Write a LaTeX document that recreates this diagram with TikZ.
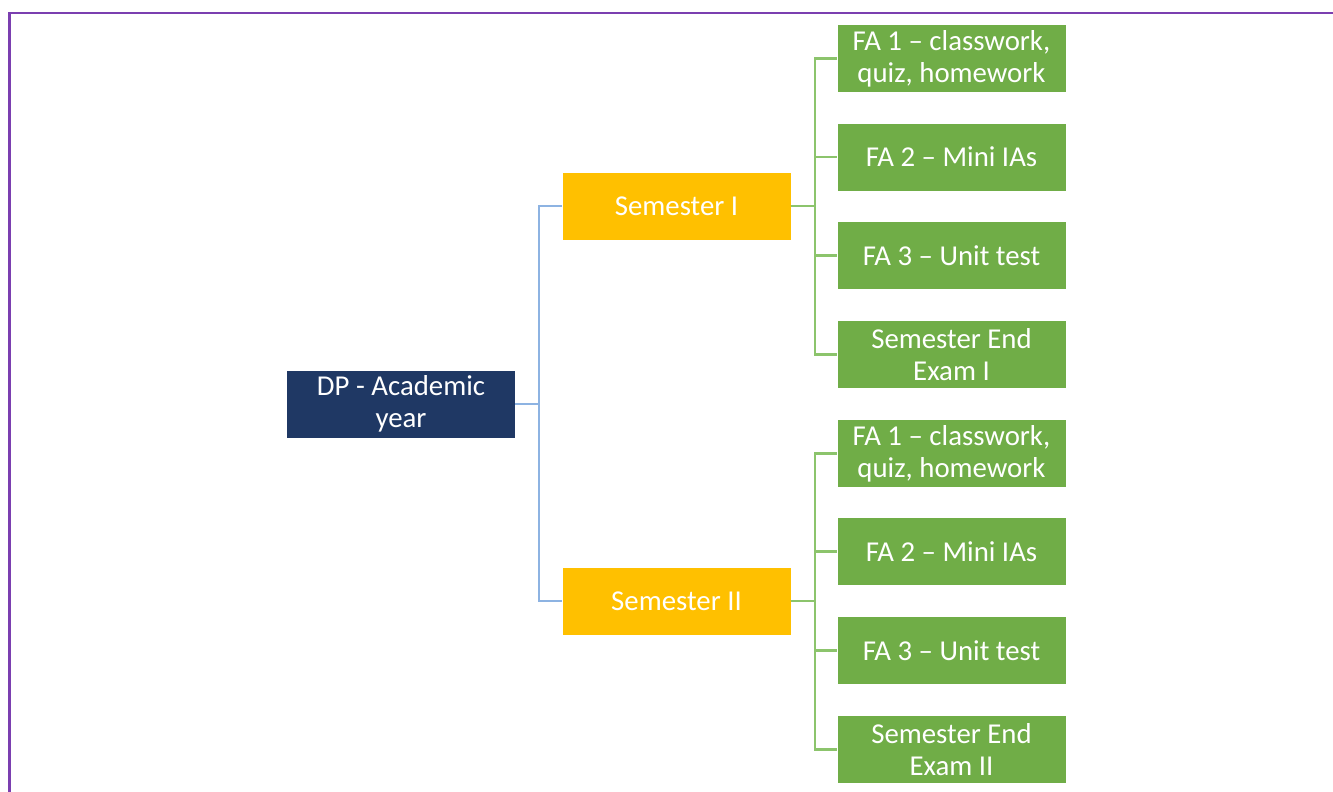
\documentclass[tikz,border=0pt]{standalone}
\usepackage{fontspec}
\setmainfont{Carlito}
\definecolor{navy}{HTML}{1F3864}
\definecolor{semorange}{HTML}{FFC000}
\definecolor{fagreen}{HTML}{70AD47}
\definecolor{lineblue}{HTML}{8DB3E2}
\definecolor{linegreen}{HTML}{8CC46C}
\definecolor{frame}{HTML}{7B3FB0}
\tikzset{
  boxbase/.style={minimum width=228pt, minimum height=67pt, inner sep=0pt, align=center, text=white,
    font=\fontsize{28.8}{32}\selectfont},
  rootbox/.style={boxbase, fill=navy},
  sembox/.style={boxbase, fill=semorange},
  fabox/.style={boxbase, fill=fagreen},
  blueline/.style={draw=lineblue, line width=2.2pt},
  greenline/.style={draw=linegreen, line width=2.2pt},
}
\begin{document}
\begin{tikzpicture}[x=1pt,y=-1pt]
\useasboundingbox (0,0) rectangle (1333,792);
\draw[frame, line width=2.5pt] (9.5,793) -- (9.5,13) -- (1334,13);

\node[rootbox] (dp) at (401,404) {DP - Academic\\year};
\node[sembox] (s1) at (676.5,206) {Semester I};
\node[sembox] (s2) at (676.5,601) {Semester II};

\node[fabox] (a1) at (951.5,58.5) {FA 1 – classwork,\\quiz, homework};
\node[fabox] (a2) at (951.5,157) {FA 2 – Mini IAs};
\node[fabox] (a3) at (951.5,255.5) {FA 3 – Unit test};
\node[fabox] (a4) at (951.5,354.5) {Semester End\\Exam I};

\node[fabox] (b1) at (951.5,453.5) {FA 1 – classwork,\\quiz, homework};
\node[fabox] (b2) at (951.5,551.5) {FA 2 – Mini IAs};
\node[fabox] (b3) at (951.5,650.5) {FA 3 – Unit test};
\node[fabox] (b4) at (951.5,749.5) {Semester End\\Exam II};

\draw[blueline] (dp.east) -- ++(24,0) |- (s1.west);
\draw[blueline] (dp.east) -- ++(24,0) |- (s2.west);

\foreach \t in {a1,a2,a3,a4}{
  \draw[greenline] (s1.east) -- ++(24,0) |- (\t.west);
}
\foreach \t in {b1,b2,b3,b4}{
  \draw[greenline] (s2.east) -- ++(24,0) |- (\t.west);
}
\end{tikzpicture}
\end{document}
